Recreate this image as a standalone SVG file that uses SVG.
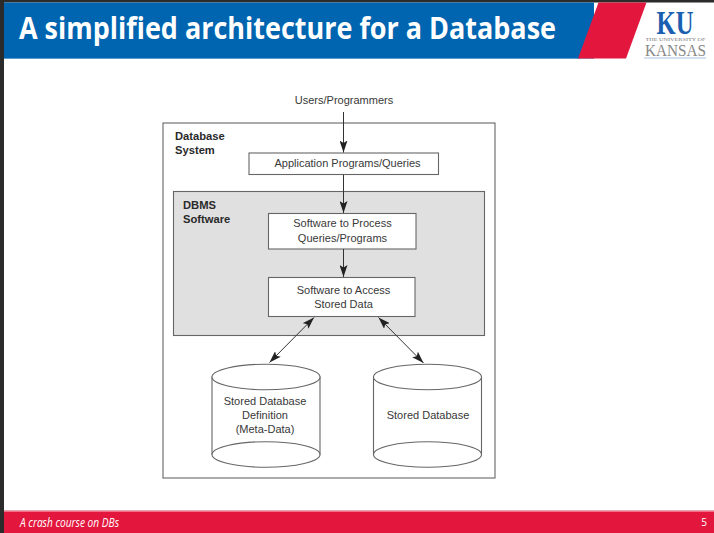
<svg xmlns="http://www.w3.org/2000/svg" width="714" height="533" viewBox="0 0 714 533">
<style>
.b{fill:#fff;stroke:#666;stroke-width:1.1}
.t{font-family:"Liberation Sans",Arial,sans-serif;font-size:11px;fill:#383838;text-anchor:middle}
.h{font-family:"Liberation Sans",Arial,sans-serif;font-size:11.2px;font-weight:bold;fill:#2a2a2a}
.c{stroke:#333;stroke-width:1;fill:none;marker-end:url(#a)}
.d{stroke:#333;stroke-width:1;fill:none;marker-start:url(#as);marker-end:url(#a)}
</style>
<defs>
<marker id="a" markerUnits="userSpaceOnUse" viewBox="0 0 12 8" refX="12" refY="4" markerWidth="12" markerHeight="8" orient="auto"><path d="M0 0L12 4L0 8L2.500 4Z" fill="#222"/></marker>
<marker id="as" markerUnits="userSpaceOnUse" viewBox="0 0 12 8" refX="0" refY="4" markerWidth="12" markerHeight="8" orient="auto"><path d="M12 0L0 4L12 8L9.500 4Z" fill="#222"/></marker>
</defs>
<rect width="714" height="533" fill="#fff"/>
<g id="chrome">
<rect width="714" height="2.500" fill="#2b2b2b"/>
<rect width="4" height="533" fill="#2b2b2b"/>
<rect x="4" y="2.500" width="590" height="56" fill="#0065b0"/>
<rect x="4" y="58" width="576" height="1" fill="#5a9bd0"/>
<path d="M598.500 2.500H646.500L626 58.500H578Z" fill="#e3173e"/>
<text x="19" y="39" font-family="'Open Sans',sans-serif" font-weight="700" font-size="31px" fill="#fff" textLength="537" lengthAdjust="spacingAndGlyphs">A simplified architecture for a Database</text>
<text x="675" y="34" font-family="'Liberation Serif',serif" font-weight="bold" font-size="33px" fill="#1a5fb0" text-anchor="middle" textLength="37" lengthAdjust="spacingAndGlyphs">KU</text>
<text x="675.500" y="40.500" font-family="'Liberation Serif',serif" font-size="4.600px" fill="#777" text-anchor="middle" textLength="60" lengthAdjust="spacingAndGlyphs">THE UNIVERSITY OF</text>
<text x="675.500" y="56" font-family="'Liberation Serif',serif" font-size="17px" fill="#888" text-anchor="middle" textLength="61" lengthAdjust="spacingAndGlyphs">KANSAS</text>
<rect x="644" y="57.500" width="62" height="1" fill="#a9c4e4"/>
<rect x="4" y="510" width="710" height="1.500" fill="#eba0b0"/>
<rect x="4" y="511.500" width="710" height="21.500" fill="#e3173e"/>
<text x="20" y="527" font-family="'Open Sans',sans-serif" font-style="italic" font-size="12px" fill="#fff" textLength="99" lengthAdjust="spacingAndGlyphs">A crash course on DBs</text>
<text x="704" y="526" font-family="'Open Sans',sans-serif" font-size="10px" fill="#fff" text-anchor="middle">5</text>
</g>
<g id="database-system"><rect class="b" x="163" y="123" width="332" height="355"/>
<text class="h" x="175" y="140">Database</text><text class="h" x="175" y="154">System</text></g>
<g id="dbms-software"><rect x="173.500" y="191.500" width="311" height="144" fill="#e0e0e0" stroke="#666" stroke-width="1.100"/>
<text class="h" x="183" y="209">DBMS</text><text class="h" x="183" y="223">Software</text></g>
<g id="users"><text class="t" x="344" y="104">Users/Programmers</text></g>
<g id="app"><rect class="b" x="249" y="153" width="189.500" height="21.500"/>
<text class="t" x="347.500" y="167">Application Programs/Queries</text></g>
<g id="process"><rect class="b" x="268.500" y="213.500" width="147.500" height="35.500"/>
<text class="t" x="342.500" y="227">Software to Process</text><text class="t" x="342.500" y="241.500">Queries/Programs</text></g>
<g id="access"><rect class="b" x="268.500" y="277.500" width="146.500" height="39"/>
<text class="t" x="343.500" y="293.500">Software to Access</text><text class="t" x="343.500" y="307.500">Stored Data</text></g>
<g id="meta-store"><path class="b" d="M212 377V454.500A54 12.800 0 0 0 320 454.500V377Z"/><ellipse class="b" cx="266" cy="377" rx="54" ry="12.800"/><path class="b" style="fill:none" d="M212 454.500A54 12.800 0 0 1 320 454.500"/>
<text class="t" x="265" y="404.500">Stored Database</text><text class="t" x="265" y="418.500">Definition</text><text class="t" x="265" y="432.500">(Meta-Data)</text></g>
<g id="data-store"><path class="b" d="M373.500 377V454.500A54 12.800 0 0 0 481.500 454.500V377Z"/><ellipse class="b" cx="427.500" cy="377" rx="54" ry="12.800"/><path class="b" style="fill:none" d="M373.500 454.500A54 12.800 0 0 1 481.500 454.500"/>
<text class="t" x="428" y="418.500">Stored Database</text></g>
<g id="connectors">
<path class="c" d="M343.500 112V152.500"/>
<path class="c" d="M343.500 174.500V213"/>
<path class="c" d="M343.500 249V277"/>
<path class="d" d="M314 317.500L269.500 362.500"/>
<path class="d" d="M378.500 317.500L423.500 363"/>
</g>
</svg>
